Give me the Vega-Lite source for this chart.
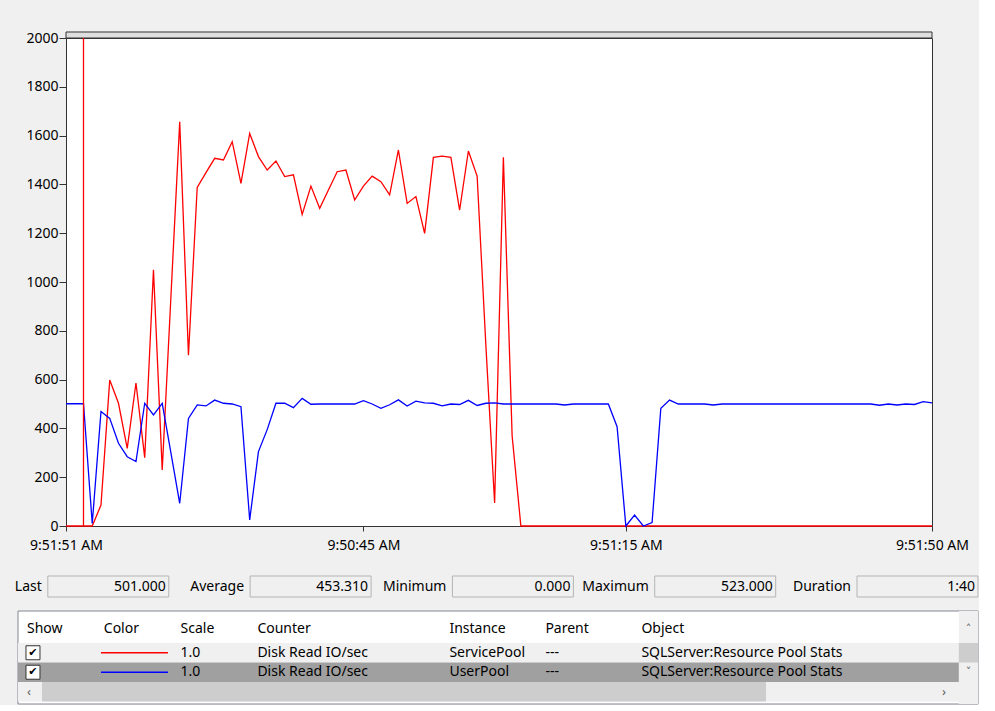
{
  "$schema": "https://vega.github.io/schema/vega-lite/v6.json",
  "background": "#f0f0f0",
  "padding": {"left": 9, "top": 30, "right": 0, "bottom": 0},
  "spacing": 0,
  "config": {
    "view": {"stroke": null},
    "font": "Noto Sans",
    "text": {"font": "Noto Sans", "fontSize": 14, "color": "#000000"},
    "axis": {"labelFont": "Noto Sans", "labelFontSize": 14, "labelColor": "#000000", "tickColor": "#333333", "domain": false, "grid": false}
  },
  "datasets": {
    "counters": [
      {"t":0,"ServicePool":0,"UserPool":501},{"t":1,"ServicePool":0,"UserPool":501},{"t":2,"ServicePool":0,"UserPool":501},{"t":3,"ServicePool":0,"UserPool":10},
      {"t":4,"ServicePool":86,"UserPool":469},{"t":5,"ServicePool":598,"UserPool":441},{"t":6,"ServicePool":503,"UserPool":339},{"t":7,"ServicePool":318,"UserPool":284},
      {"t":8,"ServicePool":586,"UserPool":264},{"t":9,"ServicePool":280,"UserPool":503},{"t":10,"ServicePool":1050,"UserPool":455},{"t":11,"ServicePool":230,"UserPool":503},
      {"t":12,"ServicePool":944,"UserPool":299},{"t":13,"ServicePool":1657,"UserPool":93},{"t":14,"ServicePool":700,"UserPool":441},{"t":15,"ServicePool":1388,"UserPool":496},
      {"t":16,"ServicePool":1448,"UserPool":492},{"t":17,"ServicePool":1507,"UserPool":516},{"t":18,"ServicePool":1500,"UserPool":503},{"t":19,"ServicePool":1575,"UserPool":500},
      {"t":20,"ServicePool":1404,"UserPool":489},{"t":21,"ServicePool":1609,"UserPool":25},{"t":22,"ServicePool":1514,"UserPool":305},{"t":23,"ServicePool":1459,"UserPool":395},
      {"t":24,"ServicePool":1496,"UserPool":503},{"t":25,"ServicePool":1432,"UserPool":503},{"t":26,"ServicePool":1439,"UserPool":485},{"t":27,"ServicePool":1277,"UserPool":523},
      {"t":28,"ServicePool":1393,"UserPool":499},{"t":29,"ServicePool":1302,"UserPool":500},{"t":30,"ServicePool":1377,"UserPool":500},{"t":31,"ServicePool":1452,"UserPool":500},
      {"t":32,"ServicePool":1459,"UserPool":500},{"t":33,"ServicePool":1336,"UserPool":500},{"t":34,"ServicePool":1393,"UserPool":514},{"t":35,"ServicePool":1434,"UserPool":500},
      {"t":36,"ServicePool":1411,"UserPool":482},{"t":37,"ServicePool":1357,"UserPool":497},{"t":38,"ServicePool":1541,"UserPool":517},{"t":39,"ServicePool":1322,"UserPool":492},
      {"t":40,"ServicePool":1350,"UserPool":512},{"t":41,"ServicePool":1199,"UserPool":505},{"t":42,"ServicePool":1511,"UserPool":503},{"t":43,"ServicePool":1516,"UserPool":492},
      {"t":44,"ServicePool":1511,"UserPool":500},{"t":45,"ServicePool":1295,"UserPool":498},{"t":46,"ServicePool":1537,"UserPool":515},{"t":47,"ServicePool":1434,"UserPool":494},
      {"t":48,"ServicePool":740,"UserPool":503},{"t":49,"ServicePool":94,"UserPool":505},{"t":50,"ServicePool":1511,"UserPool":500},{"t":51,"ServicePool":370,"UserPool":500},
      {"t":52,"ServicePool":0,"UserPool":500},{"t":53,"ServicePool":0,"UserPool":500},{"t":54,"ServicePool":0,"UserPool":500},{"t":55,"ServicePool":0,"UserPool":500},
      {"t":56,"ServicePool":0,"UserPool":500},{"t":57,"ServicePool":0,"UserPool":496},{"t":58,"ServicePool":0,"UserPool":500},{"t":59,"ServicePool":0,"UserPool":500},
      {"t":60,"ServicePool":0,"UserPool":500},{"t":61,"ServicePool":0,"UserPool":500},{"t":62,"ServicePool":0,"UserPool":500},{"t":63,"ServicePool":0,"UserPool":407},
      {"t":64,"ServicePool":0,"UserPool":0},{"t":65,"ServicePool":0,"UserPool":45},{"t":66,"ServicePool":0,"UserPool":0},{"t":67,"ServicePool":0,"UserPool":14},
      {"t":68,"ServicePool":0,"UserPool":482},{"t":69,"ServicePool":0,"UserPool":516},{"t":70,"ServicePool":0,"UserPool":500},{"t":71,"ServicePool":0,"UserPool":500},
      {"t":72,"ServicePool":0,"UserPool":500},{"t":73,"ServicePool":0,"UserPool":500},{"t":74,"ServicePool":0,"UserPool":496},{"t":75,"ServicePool":0,"UserPool":500},
      {"t":76,"ServicePool":0,"UserPool":500},{"t":77,"ServicePool":0,"UserPool":500},{"t":78,"ServicePool":0,"UserPool":500},{"t":79,"ServicePool":0,"UserPool":500},
      {"t":80,"ServicePool":0,"UserPool":500},{"t":81,"ServicePool":0,"UserPool":500},{"t":82,"ServicePool":0,"UserPool":500},{"t":83,"ServicePool":0,"UserPool":500},
      {"t":84,"ServicePool":0,"UserPool":500},{"t":85,"ServicePool":0,"UserPool":500},{"t":86,"ServicePool":0,"UserPool":500},{"t":87,"ServicePool":0,"UserPool":500},
      {"t":88,"ServicePool":0,"UserPool":500},{"t":89,"ServicePool":0,"UserPool":500},{"t":90,"ServicePool":0,"UserPool":500},{"t":91,"ServicePool":0,"UserPool":500},
      {"t":92,"ServicePool":0,"UserPool":500},{"t":93,"ServicePool":0,"UserPool":495},{"t":94,"ServicePool":0,"UserPool":500},{"t":95,"ServicePool":0,"UserPool":496},
      {"t":96,"ServicePool":0,"UserPool":500},{"t":97,"ServicePool":0,"UserPool":498},{"t":98,"ServicePool":0,"UserPool":510},{"t":99,"ServicePool":0,"UserPool":505}
    ],
    "stats": [
      {"stat":"Last","value":"501.000"},
      {"stat":"Average","value":"453.310"},
      {"stat":"Minimum","value":"0.000"},
      {"stat":"Maximum","value":"523.000"},
      {"stat":"Duration","value":"1:40"}
    ],
    "rows": [
      {"row":"ServicePool","selected":false},
      {"row":"UserPool","selected":true}
    ],
    "cells": [
      {"row":"header","col":"Show","text":"Show"},
      {"row":"header","col":"Color","text":"Color"},
      {"row":"header","col":"Scale","text":"Scale"},
      {"row":"header","col":"Counter","text":"Counter"},
      {"row":"header","col":"Instance","text":"Instance"},
      {"row":"header","col":"Parent","text":"Parent"},
      {"row":"header","col":"Object","text":"Object"},
      {"row":"ServicePool","col":"Scale","text":"1.0"},
      {"row":"ServicePool","col":"Counter","text":"Disk Read IO/sec"},
      {"row":"ServicePool","col":"Instance","text":"ServicePool"},
      {"row":"ServicePool","col":"Parent","text":"---"},
      {"row":"ServicePool","col":"Object","text":"SQLServer:Resource Pool Stats"},
      {"row":"UserPool","col":"Scale","text":"1.0"},
      {"row":"UserPool","col":"Counter","text":"Disk Read IO/sec"},
      {"row":"UserPool","col":"Instance","text":"UserPool"},
      {"row":"UserPool","col":"Parent","text":"---"},
      {"row":"UserPool","col":"Object","text":"SQLServer:Resource Pool Stats"}
    ]
  },
  "vconcat": [
    {
      "width": 866,
      "height": 488,
      "view": {"fill": "#ffffff", "stroke": "#333333"},
      "layer": [
        {
          "data": {"values": [{}]},
          "mark": {"type": "rect", "fill": "#dedede", "stroke": "#333333", "strokeWidth": 1},
          "encoding": {
            "x": {"datum": 0, "type": "quantitative", "title": null},
            "x2": {"datum": 99},
            "y": {"datum": 2000, "type": "quantitative", "title": null},
            "y2": {"datum": 2024.6}
          }
        },
        {
          "data": {"name": "counters"},
          "transform": [{"fold": ["ServicePool", "UserPool"], "as": ["series", "value"]}],
          "mark": {"type": "line", "strokeWidth": 1.3, "interpolate": "linear"},
          "encoding": {
            "x": {
              "field": "t", "type": "quantitative", "title": null,
              "scale": {"domain": [0, 99], "nice": false, "zero": false},
              "axis": {
                "title": null, "values": [0, 34, 64, 99],
                "labelExpr": "datum.value == 0 ? '9:51:51 AM' : datum.value == 34 ? '9:50:45 AM' : datum.value == 64 ? '9:51:15 AM' : '9:51:50 AM'",
                "tickSize": 5, "labelPadding": 7, "labelFlush": false, "labelOverlap": false,
                "minExtent": 36, "maxExtent": 36, "domain": false, "grid": false
              }
            },
            "y": {
              "field": "value", "type": "quantitative", "title": null,
              "scale": {"domain": [0, 2000], "nice": false, "zero": true},
              "axis": {
                "title": null, "format": "d", "values": [0, 200, 400, 600, 800, 1000, 1200, 1400, 1600, 1800, 2000],
                "tickSize": 7, "labelPadding": 1, "minExtent": 56, "maxExtent": 56, "domain": false, "grid": false
              }
            },
            "color": {
              "field": "series", "type": "nominal",
              "scale": {"domain": ["ServicePool", "UserPool"], "range": ["#ff0000", "#0000ff"]},
              "legend": null
            }
          }
        },
        {
          "data": {"values": [{}]},
          "mark": {"type": "rule", "stroke": "#ff0000", "strokeWidth": 1.3},
          "encoding": {
            "x": {"datum": 2, "type": "quantitative", "title": null},
            "y": {"datum": 0, "type": "quantitative", "title": null},
            "y2": {"datum": 2000}
          }
        }
      ]
    },
    {
      "width": 912,
      "height": 47,
      "data": {"name": "stats"},
      "layer": [
        {
          "mark": {"type": "rect", "fill": "#f0f0f0", "stroke": "#b4b4b4", "strokeWidth": 1},
          "encoding": {
            "x": {
              "field": "stat", "type": "nominal", "sort": null, "title": null, "axis": null,
              "scale": {"type": "band", "domain": ["Last", "Average", "Minimum", "Maximum", "Duration"], "range": [-48, 912], "paddingInner": 0.402, "paddingOuter": 0.0737, "align": 1}
            },
            "y": {
              "datum": "s", "type": "nominal", "title": null, "axis": null,
              "scale": {"type": "band", "domain": ["s"], "paddingInner": 0, "paddingOuter": 0.619}
            }
          }
        },
        {
          "mark": {"type": "text", "align": "right", "baseline": "middle", "dx": -6},
          "encoding": {
            "x": {"field": "stat", "type": "nominal", "bandPosition": 0, "title": null, "axis": null},
            "y": {"datum": "s", "type": "nominal", "title": null, "axis": null},
            "text": {"field": "stat"}
          }
        },
        {
          "mark": {"type": "text", "align": "right", "baseline": "middle", "dx": -3},
          "encoding": {
            "x": {"field": "stat", "type": "nominal", "bandPosition": 1, "title": null, "axis": null},
            "y": {"datum": "s", "type": "nominal", "title": null, "axis": null},
            "text": {"field": "value"}
          }
        }
      ]
    },
    {
      "width": 912,
      "height": 93,
      "layer": [
        {
          "data": {"values": [{}]},
          "mark": {"type": "rect", "fill": "#ffffff", "stroke": "#828790", "strokeWidth": 1},
          "encoding": {
            "x": {
              "datum": "Show", "type": "nominal", "bandPosition": 0, "title": null, "axis": null,
              "scale": {"type": "band", "range": [-48, 912], "paddingInner": 0, "paddingOuter": 0, "domain": ["Show","s1","s2","s3","Color","s5","s6","s7","Scale","s9","s10","s11","Counter","s13","s14","s15","s16","s17","s18","s19","s20","s21","Instance","s23","s24","s25","s26","Parent","s28","s29","s30","s31","Object","s33","s34","s35","s36","s37","s38","s39","s40","s41","s42","s43","s44","s45","s46","s47","s48","vs"]}
            },
            "x2": {"datum": "vs", "bandPosition": 1}
          }
        },
        {
          "data": {"name": "rows"},
          "mark": {"type": "rect"},
          "encoding": {
            "x": {"datum": "Show", "type": "nominal", "bandPosition": 0, "title": null, "axis": null},
            "x2": {"datum": "vs", "bandPosition": 1},
            "y": {
              "field": "row", "type": "nominal", "title": null, "axis": null,
              "scale": {"type": "band", "domain": ["header", "ServicePool", "UserPool", "scroll"], "paddingInner": 0, "paddingOuter": 0.385, "align": 0.833}
            },
            "fill": {"condition": {"test": "datum.selected", "value": "#a0a0a0"}, "value": "#f0f0f0"}
          }
        },
        {
          "data": {"values": [{}]},
          "mark": {"type": "rect", "fill": "#f0f0f0"},
          "encoding": {
            "x": {"datum": "Show", "type": "nominal", "bandPosition": 0, "title": null, "axis": null},
            "x2": {"datum": "vs", "bandPosition": 1},
            "y": {"datum": "scroll", "type": "nominal", "title": null, "axis": null}
          }
        },
        {
          "data": {"values": [{}]},
          "mark": {"type": "rect", "fill": "#f0f0f0"},
          "encoding": {
            "x": {"datum": "vs", "type": "nominal", "title": null, "axis": null}
          }
        },
        {
          "data": {"values": [{}]},
          "mark": {"type": "rect", "fill": "#cdcdcd"},
          "encoding": {
            "x": {"datum": "vs", "type": "nominal", "title": null, "axis": null},
            "y": {"datum": "ServicePool", "type": "nominal", "title": null, "axis": null}
          }
        },
        {
          "data": {"values": [{}]},
          "mark": {"type": "rect", "fill": "#cdcdcd"},
          "encoding": {
            "x": {"datum": "s1", "type": "nominal", "bandPosition": 0.25, "title": null, "axis": null},
            "x2": {"datum": "s38", "bandPosition": 0.96},
            "y": {"datum": "scroll", "type": "nominal", "title": null, "axis": null}
          }
        },
        {
          "data": {"values": [{}]},
          "mark": {"type": "text", "align": "center", "baseline": "middle", "fontSize": 13, "color": "#606060", "text": "‹"},
          "encoding": {
            "x": {"datum": "Show", "type": "nominal", "bandPosition": 0.57, "title": null, "axis": null},
            "y": {"datum": "scroll", "type": "nominal", "title": null, "axis": null}
          }
        },
        {
          "data": {"values": [{}]},
          "mark": {"type": "text", "align": "center", "baseline": "middle", "fontSize": 13, "color": "#606060", "text": "›"},
          "encoding": {
            "x": {"datum": "s48", "type": "nominal", "bandPosition": 0.23, "title": null, "axis": null},
            "y": {"datum": "scroll", "type": "nominal", "title": null, "axis": null}
          }
        },
        {
          "data": {"values": [{}]},
          "mark": {"type": "text", "align": "center", "baseline": "middle", "fontSize": 11, "font": "DejaVu Sans", "color": "#606060", "text": "˄"},
          "encoding": {
            "x": {"datum": "vs", "type": "nominal", "title": null, "axis": null},
            "y": {"datum": "header", "type": "nominal", "bandPosition": 0.3, "title": null, "axis": null}
          }
        },
        {
          "data": {"values": [{}]},
          "mark": {"type": "text", "align": "center", "baseline": "middle", "fontSize": 11, "font": "DejaVu Sans", "color": "#606060", "text": "˅"},
          "encoding": {
            "x": {"datum": "vs", "type": "nominal", "title": null, "axis": null},
            "y": {"datum": "UserPool", "type": "nominal", "title": null, "axis": null}
          }
        },
        {
          "data": {"name": "rows"},
          "mark": {"type": "point", "shape": "square", "size": 196, "filled": true, "fill": "#ffffff", "stroke": "#333333", "strokeWidth": 1, "opacity": 1},
          "encoding": {
            "x": {"datum": "Show", "type": "nominal", "bandPosition": 0.78, "title": null, "axis": null},
            "y": {"field": "row", "type": "nominal", "title": null, "axis": null}
          }
        },
        {
          "data": {"name": "rows"},
          "mark": {"type": "text", "align": "center", "baseline": "middle", "fontSize": 11, "font": "DejaVu Sans", "text": "✔"},
          "encoding": {
            "x": {"datum": "Show", "type": "nominal", "bandPosition": 0.78, "title": null, "axis": null},
            "y": {"field": "row", "type": "nominal", "title": null, "axis": null}
          }
        },
        {
          "data": {"name": "rows"},
          "mark": {"type": "rule", "strokeWidth": 1.5},
          "encoding": {
            "x": {"datum": "Color", "type": "nominal", "bandPosition": 0.32, "title": null, "axis": null},
            "x2": {"datum": "s7", "bandPosition": 0.81},
            "y": {"field": "row", "type": "nominal", "title": null, "axis": null},
            "color": {"field": "row", "type": "nominal", "scale": {"domain": ["ServicePool", "UserPool"], "range": ["#ff0000", "#0000ff"]}, "legend": null}
          }
        },
        {
          "data": {"name": "cells"},
          "transform": [{"filter": "datum.row == 'header'"}],
          "mark": {"type": "text", "align": "left", "baseline": "middle", "dx": 9},
          "encoding": {
            "x": {"field": "col", "type": "nominal", "bandPosition": 0, "title": null, "axis": null},
            "y": {"field": "row", "type": "nominal", "bandPosition": 0.27, "title": null, "axis": null},
            "text": {"field": "text"}
          }
        },
        {
          "data": {"name": "cells"},
          "transform": [{"filter": "datum.row != 'header'"}],
          "mark": {"type": "text", "align": "left", "baseline": "middle", "dx": 9},
          "encoding": {
            "x": {"field": "col", "type": "nominal", "bandPosition": 0, "title": null, "axis": null},
            "y": {"field": "row", "type": "nominal", "title": null, "axis": null},
            "text": {"field": "text"}
          }
        }
      ]
    }
  ]
}
